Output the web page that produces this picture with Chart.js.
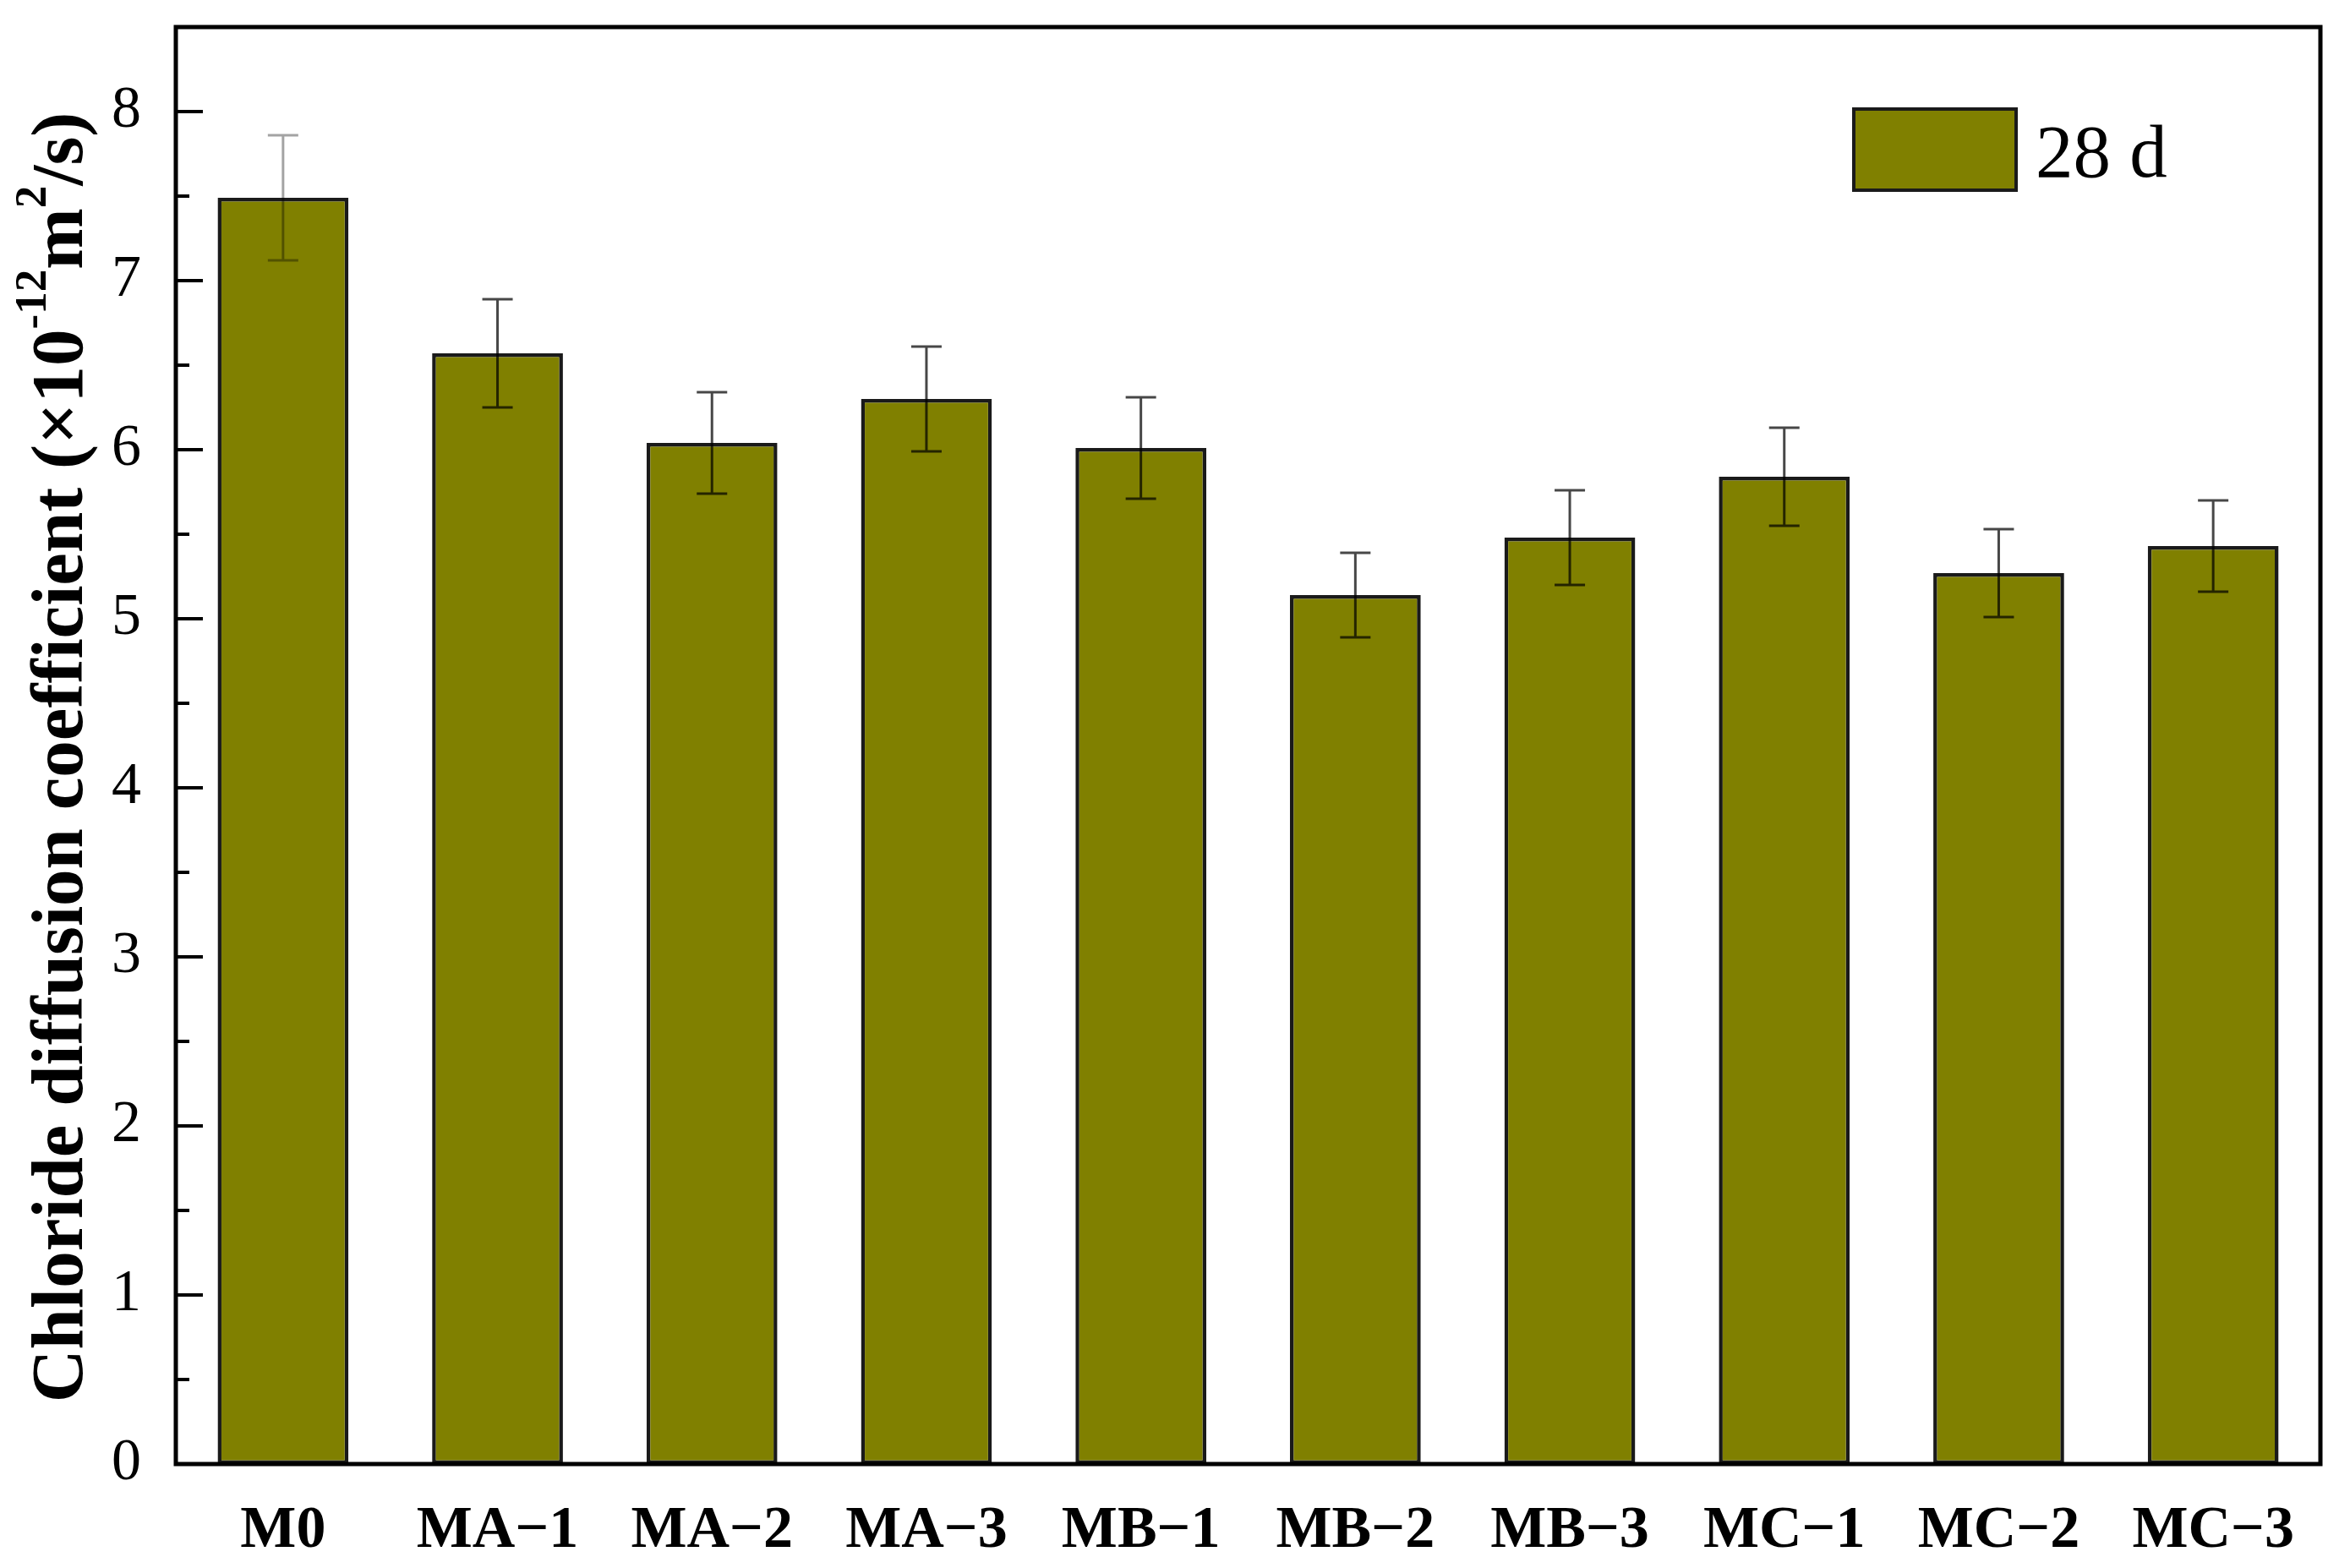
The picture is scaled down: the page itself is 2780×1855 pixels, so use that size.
<!DOCTYPE html>
<html><head><meta charset="utf-8">
<script src="https://cdn.jsdelivr.net/npm/chart.js@4"></script>
<style>html,body{margin:0;padding:0;background:#fff;overflow:hidden}#wrap{width:2780px;height:1855px}</style>
</head><body><div id="wrap"><canvas id="c" width="2780" height="1855"></canvas></div>
<script>
const categories = ['M0','MA\u22121','MA\u22122','MA\u22123','MB\u22121','MB\u22122','MB\u22123','MC\u22121','MC\u22122','MC\u22123'];
const values = [7.49, 6.57, 6.04, 6.30, 6.01, 5.14, 5.48, 5.84, 5.27, 5.43];
const errors = [0.37, 0.32, 0.30, 0.31, 0.30, 0.25, 0.28, 0.29, 0.26, 0.27];
const seriesLabel = '28 d';
const yTicks = [0, 1, 2, 3, 4, 5, 6, 7, 8];
const yMinorTicks = [0.5, 1.5, 2.5, 3.5, 4.5, 5.5, 6.5, 7.5];

const SERIF = '"Liberation Serif", "Times New Roman", serif';
const BAR_COLOR = '#808000';

const decorPlugin = {
  id: 'decor',
  afterDatasetsDraw(chart) {
    const ctx = chart.ctx;
    const ys = chart.scales.y;
    const ca = chart.chartArea;
    ctx.save();
    // error bars
    const meta = chart.getDatasetMeta(0);
    meta.data.forEach((bar, i) => {
      const cx = bar.x;
      const yTop = ys.getPixelForValue(values[i] + errors[i]);
      const yBot = ys.getPixelForValue(values[i] - errors[i]);
      ctx.strokeStyle = i === 0 ? 'rgba(0,0,0,0.36)' : 'rgba(0,0,0,0.72)';
      ctx.lineWidth = 3;
      ctx.beginPath();
      ctx.moveTo(cx, yTop); ctx.lineTo(cx, yBot);
      ctx.moveTo(cx - 18, yTop); ctx.lineTo(cx + 18, yTop);
      ctx.moveTo(cx - 18, yBot); ctx.lineTo(cx + 18, yBot);
      ctx.stroke();
    });
    // inward y ticks
    ctx.strokeStyle = '#000';
    ctx.lineWidth = 4;
    ctx.beginPath();
    yTicks.forEach(v => { const y = ys.getPixelForValue(v); ctx.moveTo(ca.left, y); ctx.lineTo(ca.left + 32, y); });
    yMinorTicks.forEach(v => { const y = ys.getPixelForValue(v); ctx.moveTo(ca.left, y); ctx.lineTo(ca.left + 16, y); });
    ctx.stroke();
    // frame
    ctx.lineWidth = 5;
    ctx.strokeStyle = '#000';
    ctx.strokeRect(ca.left, ca.top, ca.right - ca.left, ca.bottom - ca.top);
    // legend
    const lx = 2193, ly = 129, lw = 192, lh = 96;
    ctx.fillStyle = BAR_COLOR;
    ctx.fillRect(lx, ly, lw, lh);
    ctx.lineWidth = 4;
    ctx.strokeStyle = '#1a1a1a';
    ctx.strokeRect(lx, ly, lw, lh);
    ctx.fillStyle = '#000';
    ctx.font = '89px ' + SERIF;
    ctx.textAlign = 'left';
    ctx.textBaseline = 'alphabetic';
    ctx.fillText(chart.data.datasets[0].label, 2408, 209);
    // y title with superscripts
    const big = 'bold 87px ' + SERIF, small = 'bold 53px ' + SERIF;
    const parts = [
      {t: 'Chloride diffusion coefficient (\u00d710', f: big, dy: 0},
      {t: '-12', f: small, dy: -35},
      {t: 'm', f: big, dy: 0},
      {t: '2', f: small, dy: -35},
      {t: '/s)', f: big, dy: 0}
    ];
    let total = 0;
    parts.forEach(p => { ctx.font = p.f; p.w = ctx.measureText(p.t).width; total += p.w; });
    ctx.translate(66, (ca.top + ca.bottom) / 2 + 14);
    ctx.rotate(-Math.PI / 2);
    ctx.textBaseline = 'middle';
    let x = -total / 2;
    parts.forEach(p => { ctx.font = p.f; ctx.fillText(p.t, x, p.dy + 9); x += p.w; });
    ctx.restore();
  }
};

new Chart(document.getElementById('c'), {
  type: 'bar',
  data: {
    labels: categories,
    datasets: [{
      label: seriesLabel,
      data: values,
      backgroundColor: BAR_COLOR,
      borderColor: '#1a1a1a',
      borderWidth: 4.5,
      borderSkipped: false,
      barPercentage: 0.61,
      categoryPercentage: 1.0
    }]
  },
  options: {
    responsive: false,
    devicePixelRatio: 1,
    animation: false,
    layout: { padding: { top: 32, right: 35, left: 0, bottom: 0 } },
    plugins: { legend: { display: false }, tooltip: { enabled: false } },
    scales: {
      x: {
        grid: { display: false, drawTicks: false },
        border: { display: false },
        ticks: { color: '#000', font: { family: SERIF, size: 70, weight: 'bold' }, padding: 38, maxRotation: 0, autoSkip: false },
        afterFit(s) { s.height = 123; s.paddingLeft = 0; s.paddingRight = 0; }
      },
      y: {
        min: 0, max: 8.5,
        grid: { display: false, drawTicks: false },
        border: { display: false },
        ticks: { color: '#000', font: { family: SERIF, size: 70 }, padding: 41 },
        afterBuildTicks(s) { s.ticks = yTicks.map(v => ({ value: v })); },
        afterFit(s) { s.width = 208; s.paddingTop = 0; s.paddingBottom = 0; }
      }
    }
  },
  plugins: [decorPlugin]
});
</script>
</body></html>
